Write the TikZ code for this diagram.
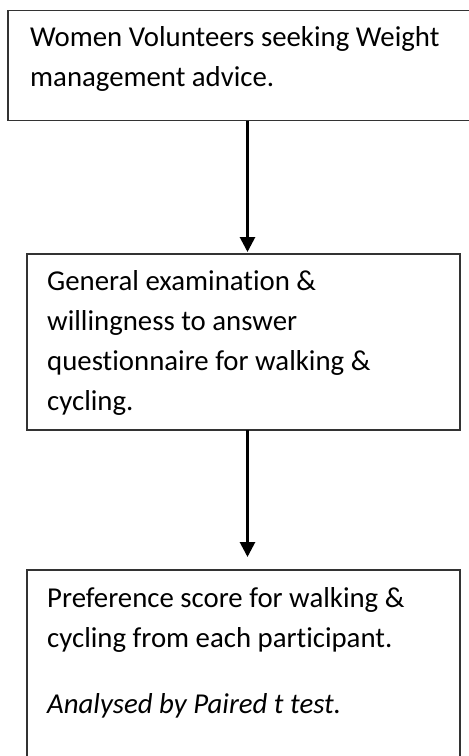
\documentclass[tikz,border=0pt]{standalone}
\usepackage{fontspec}
\setmainfont{Carlito}[RawFeature={-liga;-clig;-dlig}]
\usetikzlibrary{arrows.meta}
\begin{document}
\begin{tikzpicture}[x=1pt,y=-1pt,
  box/.style={draw=black!80, line width=1.3pt, fill=white, anchor=north west, inner sep=0pt, outer sep=0pt},
  txt/.style={anchor=base west, inner sep=0pt, font=\fontsize{28.8}{40}\selectfont, text=black},
  itxt/.style={anchor=base west, inner sep=0pt, font=\fontsize{28.8}{40}\selectfont\itshape, text=black},
  arr/.style={line width=2.8pt, -{Triangle[length=15pt,width=15pt]}}]
\path[use as bounding box, fill=white] (0,0) rectangle (469,756);
\clip (0,0) rectangle (469,756);
\node[box, minimum width=472pt, minimum height=110pt] (b1) at (8,10.7) {};
\node[box, minimum width=433pt, minimum height=176pt] (b2) at (27,254) {};
\node[box, minimum width=433pt, minimum height=200pt] (b3) at (27,570) {};
\node[txt] (t1a) at (30,46.7) {Women Volunteers seeking Weight};
\node[txt] (t1b) at (30,86.7) {management advice.};
\node[txt] (t2a) at (47,290) {General examination \&};
\node[txt] (t2b) at (47,330) {willingness to answer};
\node[txt] (t2c) at (47,370) {questionnaire for walking \&};
\node[txt] (t2d) at (47,410) {cycling.};
\node[txt] (t3a) at (47,607) {Preference score for walking \&};
\node[txt] (t3b) at (47,647) {cycling from each participant.};
\node[itxt] (t3c) at (47,713) {Analysed by Paired t test.};
\coordinate (ax) at (247.5,0);
\draw[arr, shorten >=2pt] (b1.south -| ax) -- (b2.north -| ax);
\draw[arr, shorten >=13pt] (b2.south -| ax) -- (b3.north -| ax);
\end{tikzpicture}
\end{document}
